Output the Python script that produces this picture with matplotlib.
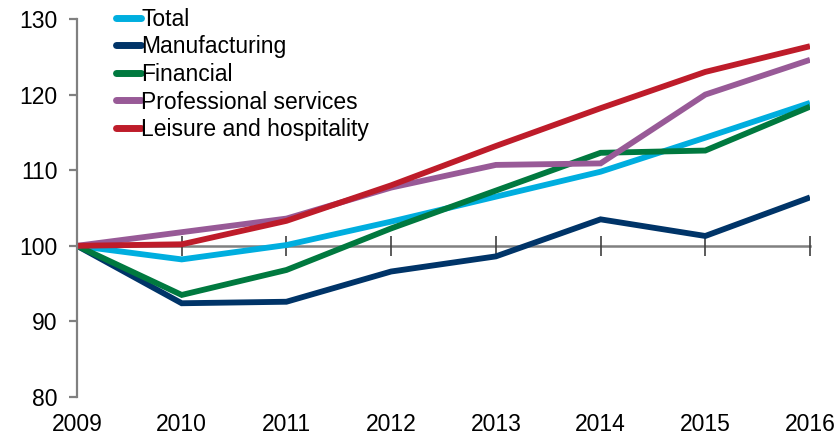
import matplotlib
matplotlib.use("Agg")
import matplotlib.pyplot as plt
from matplotlib.transforms import blended_transform_factory

plt.rcParams["font.family"] = ["Liberation Sans", "DejaVu Sans"]

# Employment index by sector, 2009 = 100
years = ["2009", "2010", "2011", "2012", "2013", "2014", "2015", "2016"]
total = [100.0, 98.2, 100.1, 103.2, 106.5, 109.8, 114.3, 118.9]
manufacturing = [100.0, 92.4, 92.6, 96.6, 98.6, 103.5, 101.3, 106.4]
financial = [100.0, 93.5, 96.8, 102.3, 107.3, 112.3, 112.6, 118.4]
professional = [100.0, 101.8, 103.6, 107.7, 110.7, 110.9, 120.0, 124.6]
leisure = [100.0, 100.2, 103.3, 108.0, 113.2, 118.2, 123.0, 126.4]

series = [
    ("Total", total, "#00AEDF"),
    ("Manufacturing", manufacturing, "#003468"),
    ("Financial", financial, "#00793F"),
    ("Professional services", professional, "#985A97"),
    ("Leisure and hospitality", leisure, "#BE1C2A"),
]

AXIS_GREY = "#808080"
FS = 16.5

fig = plt.figure(figsize=(8.39, 4.38), dpi=100)
ax = fig.add_axes([77 / 839, 41 / 438, 733 / 839, 378 / 438])

x = list(range(len(years)))
for name, vals, color in series:
    ax.plot(x, vals, color=color, lw=4.2, label=name,
            solid_capstyle="butt", solid_joinstyle="miter")

ax.set_xlim(0, len(years) - 1)
ax.set_ylim(80, 130)
ax.set_yticks([80, 90, 100, 110, 120, 130])

# category axis crosses the value axis at 100
for side in ("top", "right"):
    ax.spines[side].set_visible(False)
ax.spines["left"].set_color(AXIS_GREY)
ax.spines["left"].set_linewidth(1.6)
ax.spines["bottom"].set_position(("data", 100))
ax.spines["bottom"].set_color(AXIS_GREY)
ax.spines["bottom"].set_linewidth(1.8)
ax.spines["bottom"].set_zorder(1)

ax.set_xticks(x[1:])
ax.tick_params(axis="x", direction="inout", length=14, width=1.2,
               color="#404040", labelbottom=False)
ax.tick_params(axis="y", direction="out", length=6, width=1.6,
               color=AXIS_GREY, labelsize=FS, pad=8)

# year labels sit below the plot area
trans = blended_transform_factory(ax.transData, ax.transAxes)
for xi, yr in zip(x, years):
    ax.text(xi, -0.042, yr, transform=trans, ha="center", va="top",
            fontsize=FS)

leg = ax.legend(loc="upper left", bbox_to_anchor=(0.041, 1.054),
                frameon=False, fontsize=FS, handlelength=1.1,
                handletextpad=0.0, labelspacing=0.2, borderaxespad=0)
for h in leg.get_lines():
    h.set_linewidth(5)
    h.set_solid_capstyle("round")

fig.savefig("out.png", dpi=100)
